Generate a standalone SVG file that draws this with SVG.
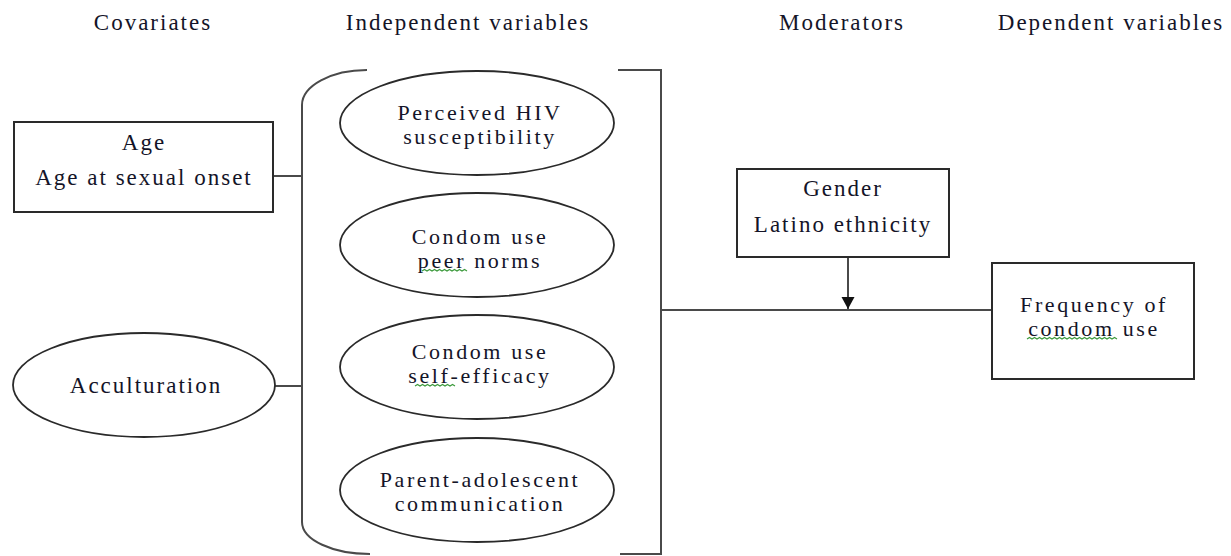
<svg xmlns="http://www.w3.org/2000/svg" width="1231" height="556" viewBox="0 0 1231 556">
  <style>
    .t { font-family: "Liberation Serif", "Times New Roman", serif; font-size: 23px; letter-spacing: 2px; fill: #141428; text-anchor: middle; }
    .e { font-size: 22px; letter-spacing: 2.6px; }
    .box { fill: #ffffff; stroke: #2a2a2a; stroke-width: 2; }
    .ell { fill: #ffffff; stroke: #2a2a2a; stroke-width: 1.8; }
    .ln { fill: none; stroke: #4a4a4a; stroke-width: 2; }
    .sq { fill: none; stroke: #3c9a3c; stroke-width: 1.2; }
  </style>
  <defs>
    <marker id="arrow" markerWidth="14" markerHeight="14" refX="12" refY="6.5" orient="auto" markerUnits="userSpaceOnUse">
      <path d="M0,0 L12,6.5 L0,13 Z" fill="#111111"/>
    </marker>
  </defs>
  <rect width="1231" height="556" fill="#ffffff"/>

  <g id="headers">
    <text class="t" x="153" y="30">Covariates</text>
    <text class="t" x="468" y="30">Independent variables</text>
    <text class="t" x="842" y="30">Moderators</text>
    <text class="t" x="1111" y="30">Dependent variables</text>
  </g>

  <g id="connectors">
    <path class="ln" d="M367,70 C331,70 302,86 302,105 L302,522 C302,540 333,554 370,554"/>
    <path class="ln" d="M618,70 H661 V554 H620"/>
    <line class="ln" x1="273" y1="176" x2="302" y2="176"/>
    <line class="ln" x1="275" y1="386" x2="302" y2="386"/>
    <line class="ln" x1="661" y1="310" x2="992" y2="310"/>
    <line class="ln" x1="848" y1="257" x2="848" y2="309" stroke="#222" marker-end="url(#arrow)"/>
  </g>

  <g id="node-age">
    <rect class="box" x="14" y="122" width="259" height="90"/>
    <text class="t" x="144" y="150">Age</text>
    <text class="t" x="144" y="185">Age at sexual onset</text>
  </g>

  <g id="node-acculturation">
    <ellipse class="ell" cx="144" cy="385" rx="131" ry="52"/>
    <text class="t" x="146" y="393">Acculturation</text>
  </g>

  <g id="node-hiv">
    <ellipse class="ell" cx="477" cy="123" rx="137" ry="52"/>
    <text class="t e" x="480" y="120">Perceived HIV</text>
    <text class="t e" x="480" y="144">susceptibility</text>
  </g>

  <g id="node-peer">
    <ellipse class="ell" cx="477" cy="245" rx="137" ry="52"/>
    <text class="t e" x="480" y="244">Condom use</text>
    <text class="t e" x="480" y="268">peer norms</text>
    <path class="sq" d="M422,271 l2.5,-1.5 l2.5,1.5 l2.5,-1.5 l2.5,1.5 l2.5,-1.5 l2.5,1.5 l2.5,-1.5 l2.5,1.5 l2.5,-1.5 l2.5,1.5 l2.5,-1.5 l2.5,1.5 l2.5,-1.5 l2.5,1.5 l2.5,-1.5 l2.5,1.5 l2.5,-1.5 l2.5,1.5"/>
  </g>

  <g id="node-selfefficacy">
    <ellipse class="ell" cx="477" cy="367" rx="137" ry="52"/>
    <text class="t e" x="480" y="359">Condom use</text>
    <text class="t e" x="480" y="383">self-efficacy</text>
    <path class="sq" d="M415,386 l2.5,-1.5 l2.5,1.5 l2.5,-1.5 l2.5,1.5 l2.5,-1.5 l2.5,1.5 l2.5,-1.5 l2.5,1.5 l2.5,-1.5 l2.5,1.5 l2.5,-1.5 l2.5,1.5 l2.5,-1.5 l2.5,1.5 l2.5,-1.5 l2.5,1.5"/>
  </g>

  <g id="node-communication">
    <ellipse class="ell" cx="477" cy="490" rx="137" ry="52"/>
    <text class="t e" x="480" y="487">Parent-adolescent</text>
    <text class="t e" x="480" y="511">communication</text>
  </g>

  <g id="node-moderators">
    <rect class="box" x="737" y="169" width="212" height="88"/>
    <text class="t" x="843" y="196">Gender</text>
    <text class="t" x="843" y="232">Latino ethnicity</text>
  </g>

  <g id="node-frequency">
    <rect class="box" x="992" y="263" width="202" height="116"/>
    <text class="t e" x="1094" y="312">Frequency of</text>
    <text class="t e" x="1094" y="336">condom use</text>
    <path class="sq" d="M1027,339 l2.5,-1.5 l2.5,1.5 l2.5,-1.5 l2.5,1.5 l2.5,-1.5 l2.5,1.5 l2.5,-1.5 l2.5,1.5 l2.5,-1.5 l2.5,1.5 l2.5,-1.5 l2.5,1.5 l2.5,-1.5 l2.5,1.5 l2.5,-1.5 l2.5,1.5 l2.5,-1.5 l2.5,1.5 l2.5,-1.5 l2.5,1.5 l2.5,-1.5 l2.5,1.5 l2.5,-1.5 l2.5,1.5 l2.5,-1.5 l2.5,1.5 l2.5,-1.5 l2.5,1.5 l2.5,-1.5 l2.5,1.5 l2.5,-1.5 l2.5,1.5 l2.5,-1.5 l2.5,1.5 l2.5,-1.5 l2.5,1.5"/>
  </g>
</svg>
